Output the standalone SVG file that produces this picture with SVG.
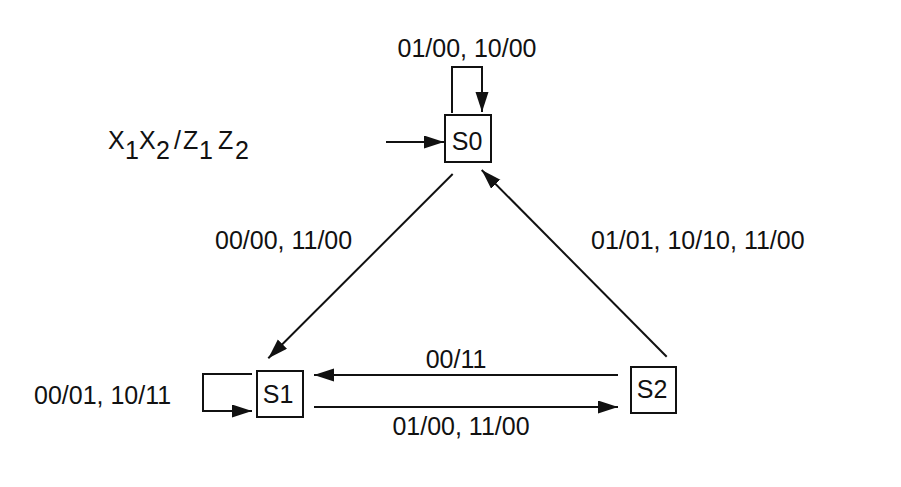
<svg xmlns="http://www.w3.org/2000/svg" width="901" height="487" viewBox="0 0 901 487">
<style>
  text { font-family: "Liberation Sans", Arial, sans-serif; font-size: 25px; fill: #111; }
  .state rect { fill: #fff; stroke: #111; stroke-width: 2; }
  .state text { text-anchor: middle; }
  .edge { fill: none; stroke: #111; stroke-width: 2; marker-end: url(#arrow); }
</style>
<defs>
  <marker id="arrow" markerUnits="userSpaceOnUse" markerWidth="22" markerHeight="14" refX="20" refY="6.5" orient="auto">
    <path d="M0,0 L20,6.5 L0,13 Z" fill="#111"/>
  </marker>
</defs>
<rect width="901" height="487" fill="#fff"/>
<g id="legend">
  <text y="149"><tspan x="108">X</tspan><tspan x="125" dy="10">1</tspan><tspan x="139" dy="-10">X</tspan><tspan x="156" dy="10">2</tspan><tspan x="174" dy="-10">/</tspan><tspan x="183">Z</tspan><tspan x="199" dy="10">1</tspan><tspan x="218" dy="-10">Z</tspan><tspan x="235" dy="10">2</tspan></text>
</g>
<g id="S0" class="state">
  <rect x="445" y="115" width="46" height="47"/>
  <text x="467" y="150">S0</text>
</g>
<g id="S1" class="state">
  <rect x="257" y="371" width="46" height="46"/>
  <text x="278" y="403">S1</text>
</g>
<g id="S2" class="state">
  <rect x="631" y="367" width="45" height="46"/>
  <text x="652" y="398">S2</text>
</g>
<g id="connectors">
  <path class="edge" d="M386,142 H444"/>
  <path class="edge" d="M452,113 V67 H482 V112"/>
  <path class="edge" d="M452.7,174 L268.3,358.3"/>
  <path class="edge" d="M666.7,356.7 L481.7,170"/>
  <path class="edge" d="M618,375 H314"/>
  <path class="edge" d="M314,407 H618"/>
  <path class="edge" d="M252,374 H203 V411 H252"/>
</g>
<g id="labels">
  <text x="467" y="57" text-anchor="middle">01/00, 10/00</text>
  <text x="215" y="249">00/00, 11/00</text>
  <text x="591" y="249">01/01, 10/10, 11/00</text>
  <text x="456" y="368" text-anchor="middle">00/11</text>
  <text x="461" y="435" text-anchor="middle">01/00, 11/00</text>
  <text x="34" y="404">00/01, 10/11</text>
</g>
</svg>
